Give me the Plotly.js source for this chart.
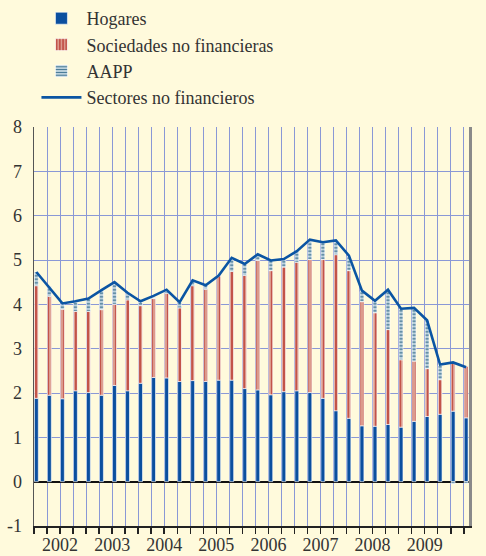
<!DOCTYPE html>
<html>
<head>
<meta charset="utf-8">
<script src="https://cdn.plot.ly/plotly-3.0.1.min.js"></script>
<style>html,body{margin:0;padding:0;background:#fffadc;}#chart{width:486px;height:556px;}</style>
</head>
<body>
<div id="chart"></div>
<script>
// Quarter-end observations, 2001 T4 .. 2010 T1
var quarters = [
  "2001-T4",
  "2002-T1","2002-T2","2002-T3","2002-T4",
  "2003-T1","2003-T2","2003-T3","2003-T4",
  "2004-T1","2004-T2","2004-T3","2004-T4",
  "2005-T1","2005-T2","2005-T3","2005-T4",
  "2006-T1","2006-T2","2006-T3","2006-T4",
  "2007-T1","2007-T2","2007-T3","2007-T4",
  "2008-T1","2008-T2","2008-T3","2008-T4",
  "2009-T1","2009-T2","2009-T3","2009-T4",
  "2010-T1"
];
var hogares = [1.88,1.95,1.87,2.05,2.01,1.95,2.17,2.05,2.22,2.35,2.34,2.26,2.28,2.26,2.29,2.29,2.10,
               2.07,1.96,2.03,2.05,2.01,1.88,1.60,1.43,1.26,1.25,1.29,1.23,1.36,1.47,1.52,1.59,1.44];
var sociedades = [2.54,2.23,2.02,1.79,1.83,1.93,1.83,2.05,1.75,1.78,1.91,1.66,2.14,2.08,2.35,2.45,2.55,
                  2.92,2.80,2.81,2.90,3.00,3.13,3.52,3.33,2.80,2.56,2.14,1.52,1.36,1.08,0.78,1.11,1.16];
var aapp = [0.31,0.22,0.11,0.21,0.29,0.45,0.46,0.15,0.08,0.02,0.05,0.12,0.09,0.08,0.02,0.27,0.26,
            0.13,0.23,0.18,0.25,0.41,0.38,0.29,0.32,0.23,0.26,0.89,1.14,1.19,1.09,0.32,-0.05,-0.04];
var total = [4.73,4.38,4.02,4.07,4.13,4.32,4.50,4.26,4.07,4.19,4.33,4.05,4.54,4.43,4.65,5.05,4.91,
             5.13,4.99,5.02,5.20,5.46,5.40,5.44,5.10,4.31,4.08,4.33,3.90,3.92,3.64,2.64,2.69,2.58];
var seriesNames = ["Hogares","Sociedades no financieras","AAPP","Sectores no financieros"];
var yTicks = [-1,0,1,2,3,4,5,6,7,8];
var yTickText = yTicks.map(String);

// year label at the middle of each year (second quarter end)
var tickText = quarters.map(function(q){ return q.slice(5) === "T2" ? q.slice(0,4) : ""; });

var serif = "Liberation Serif";
var bg = "#fffadc";
var grid = "#8a98d6";
var fnt = {family:serif, size:18, color:"#333"};
var barW = 0.3, barOff = 0.03;
var xr = [0, 33.4];
var shift = barOff + barW/2;

var traces = [
  {type:"bar", name:seriesNames[0], x:quarters, y:hogares, width:barW, offset:barOff,
   marker:{color:"#0b4f9f", line:{color:"#ffffff", width:0.6}}},
  {type:"bar", name:seriesNames[1], x:quarters, y:sociedades, width:barW, offset:barOff,
   marker:{color:"#dc9a8c", line:{color:"#ffffff", width:0.6},
           pattern:{shape:"|", fgcolor:"#b8352c", bgcolor:"#dc9a8c", size:4, solidity:0.35}}},
  {type:"bar", name:seriesNames[2], x:quarters, y:aapp, width:barW, offset:barOff,
   marker:{color:"#bcd2dd", line:{color:"#ffffff", width:0.6},
           pattern:{shape:"-", fgcolor:"#3f7391", bgcolor:"#bcd2dd", size:3.5, solidity:0.35}}},
  {type:"scatter", mode:"lines", name:seriesNames[3], x:quarters, y:total,
   xaxis:"x2", yaxis:"y2", line:{color:"#0b55a3", width:2.6}}
];

var layout = {
  width:486, height:556,
  paper_bgcolor:bg, plot_bgcolor:bg,
  margin:{l:34, r:17, t:127, b:30, autoexpand:false},
  barmode:"relative",
  showlegend:true,
  legend:{xref:"container", yref:"container", x:0.075, y:1.006, xanchor:"left", yanchor:"top",
          bgcolor:"rgba(0,0,0,0)", font:fnt, itemwidth:40, tracegroupgap:0},
  xaxis:{type:"category", categoryarray:quarters, range:xr,
         tickmode:"array", tickvals:quarters, ticktext:tickText, tickangle:0,
         ticks:"outside", ticklen:6, tickwidth:1.5, tickcolor:"#222",
         showgrid:true, gridcolor:grid, gridwidth:1,
         showline:true, linecolor:"#222", linewidth:1.5,
         tickfont:fnt, ticklabelstandoff:-4,
         zeroline:false, fixedrange:true, automargin:false},
  xaxis2:{type:"category", categoryarray:quarters, overlaying:"x", anchor:"y2",
          range:[xr[0]-shift, xr[1]-shift], visible:false, fixedrange:true},
  yaxis:{range:[-1,8], tickmode:"array", tickvals:yTicks, ticktext:yTickText, ticks:"",
         showgrid:true, gridcolor:grid, gridwidth:1,
         zeroline:true, zerolinecolor:"#111", zerolinewidth:2,
         showline:true, linecolor:"#555", linewidth:1.5, automargin:false,
         tickfont:fnt, ticklabelstandoff:7, fixedrange:true},
  yaxis2:{range:[-1,8], overlaying:"y", side:"right", anchor:"x2",
          tickmode:"array", tickvals:yTicks, ticktext:yTickText, ticks:"", automargin:false,
          showgrid:false, zeroline:false,
          showline:true, linecolor:"#8a8a8a", linewidth:2.5,
          tickfont:fnt, ticklabelstandoff:13, fixedrange:true}
};

Plotly.newPlot("chart", traces, layout, {displayModeBar:false, staticPlot:true});
</script>
</body>
</html>
